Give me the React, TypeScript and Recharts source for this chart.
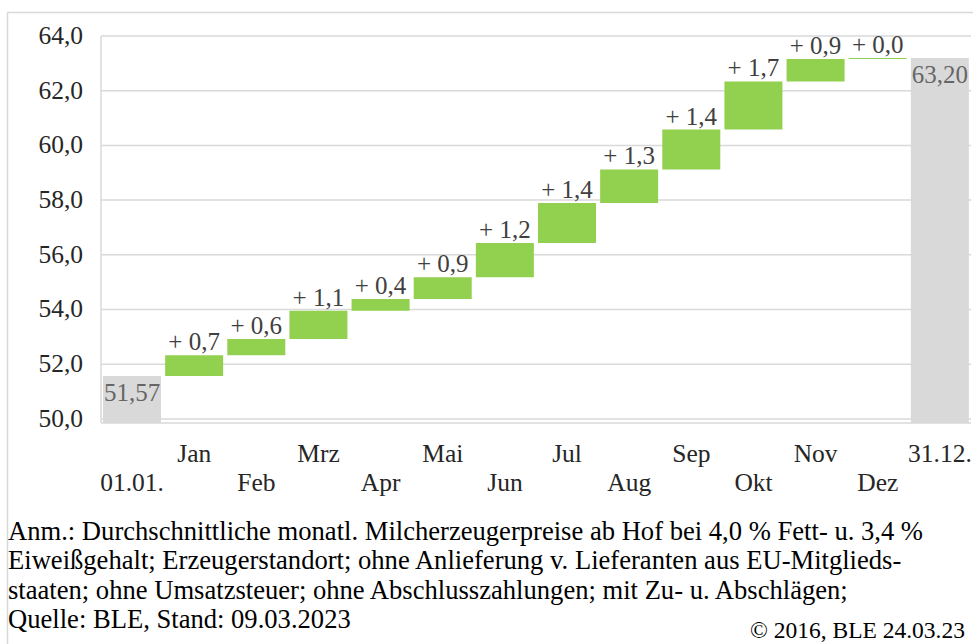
import React from 'react';
import { BarChart, Bar, XAxis, YAxis, CartesianGrid, Cell, LabelList } from 'recharts';

const categories = ['01.01.', 'Jan', 'Feb', 'Mrz', 'Apr', 'Mai', 'Jun', 'Jul', 'Aug', 'Sep', 'Okt', 'Nov', 'Dez', '31.12.'];
const startPrice = 51.57;
const endPrice = 63.2;
// Preisniveau am Monatsende
const monthEndPrices = [52.33, 52.92, 53.95, 54.38, 55.18, 56.43, 57.89, 59.12, 60.58, 62.34, 63.16, 63.2];
// Veränderung zum Vormonat, wie beschriftet
const monthlyChanges = [0.7, 0.6, 1.1, 0.4, 0.9, 1.2, 1.4, 1.3, 1.4, 1.7, 0.9, 0.0];
const yTicks = [50, 52, 54, 56, 58, 60, 62, 64];
const axisMin = 49.85;

const footnoteLines = [
  'Anm.: Durchschnittliche monatl. Milcherzeugerpreise ab Hof bei 4,0 % Fett- u. 3,4 %',
  'Eiweißgehalt; Erzeugerstandort; ohne Anlieferung v. Lieferanten aus EU-Mitglieds-',
  'staaten; ohne Umsatzsteuer; ohne Abschlusszahlungen; mit Zu- u. Abschlägen;',
  'Quelle: BLE, Stand: 09.03.2023',
];
const copyright = '© 2016, BLE 24.03.23';

const FONT = "'Liberation Serif', 'Times New Roman', serif";
const GREEN = '#92d050';
const GRAY = '#d9d9d9';

const fmt = (v: number, d: number) => v.toFixed(d).replace('.', ',');

const rows = categories.map((name, i) => {
  if (i === 0) return { name, range: [axisMin, startPrice], total: true, label: fmt(startPrice, 2) };
  if (i === categories.length - 1) return { name, range: [axisMin, endPrice], total: true, label: fmt(endPrice, 2) };
  const prev = i === 1 ? startPrice : monthEndPrices[i - 2];
  return { name, range: [prev, monthEndPrices[i - 1]], total: false, label: '+ ' + fmt(monthlyChanges[i - 1], 1) };
});

const renderLabel = (props: any) => {
  const { x, y, width, height, index } = props;
  const row = rows[index];
  const top = Math.min(y, y + height);
  const cx = x + width / 2;
  if (row.total) {
    return (
      <text x={cx} y={top + 25} textAnchor="middle" fontFamily={FONT} fontSize={25} fill="#666">
        {row.label}
      </text>
    );
  }
  return (
    <text x={cx} y={top - 5} textAnchor="middle" fontFamily={FONT} fontSize={25} fill="#404040">
      {row.label}
    </text>
  );
};

const XTick = (props: any) => {
  const { x, payload, index } = props;
  const upper = index % 2 === 1;
  return (
    <text x={x} y={upper ? 462 : 491} textAnchor="middle" fontFamily={FONT} fontSize={25.5} fill="#262626">
      {payload.value}
    </text>
  );
};

const YTick = (props: any) => {
  const { y, payload } = props;
  return (
    <text x={83} y={y + 8} textAnchor="end" fontFamily={FONT} fontSize={25.5} fill="#262626">
      {fmt(payload.value, 1)}
    </text>
  );
};

export default function App() {
  return (
    <div style={{ position: 'absolute', left: 0, top: 0, width: 973, height: 644, overflow: 'hidden', background: '#fff' }}>
      <div style={{ position: 'absolute', left: 0, top: 0 }}>
        <BarChart width={973} height={503} data={rows} margin={{ top: 36, right: 2, left: 0, bottom: 0 }}>
          <CartesianGrid vertical={false} stroke={GRAY} strokeWidth={1.5} />
          <XAxis dataKey="name" axisLine={false} tickLine={false} interval={0} height={80} tick={<XTick />} />
          <YAxis
            type="number"
            domain={[axisMin, 64]}
            ticks={yTicks}
            width={101}
            axisLine={{ stroke: GRAY, strokeWidth: 1.5 }}
            tickLine={false}
            tick={<YTick />}
            allowDataOverflow
          />
          <Bar dataKey="range" barSize={58} isAnimationActive={false}>
            {rows.map((r, i) => (
              <Cell key={i} fill={r.total ? GRAY : GREEN} />
            ))}
            <LabelList dataKey="label" content={renderLabel} />
          </Bar>
        </BarChart>
      </div>
      <svg width={973} height={644} style={{ position: 'absolute', left: 0, top: 0, pointerEvents: 'none' }}>
        <line x1={7.5} y1={12.5} x2={7.5} y2={644} stroke={GRAY} strokeWidth={1.5} />
        <line x1={7} y1={12.5} x2={973} y2={12.5} stroke={GRAY} strokeWidth={1.5} />
        {footnoteLines.map((t, i) => (
          <text key={i} x={8} y={540 + i * 29.3} fontFamily={FONT} fontSize={26.6} fill="#000">
            {t}
          </text>
        ))}
        <text x={965} y={638} textAnchor="end" fontFamily={FONT} fontSize={23.5} fill="#000">
          {copyright}
        </text>
      </svg>
    </div>
  );
}
